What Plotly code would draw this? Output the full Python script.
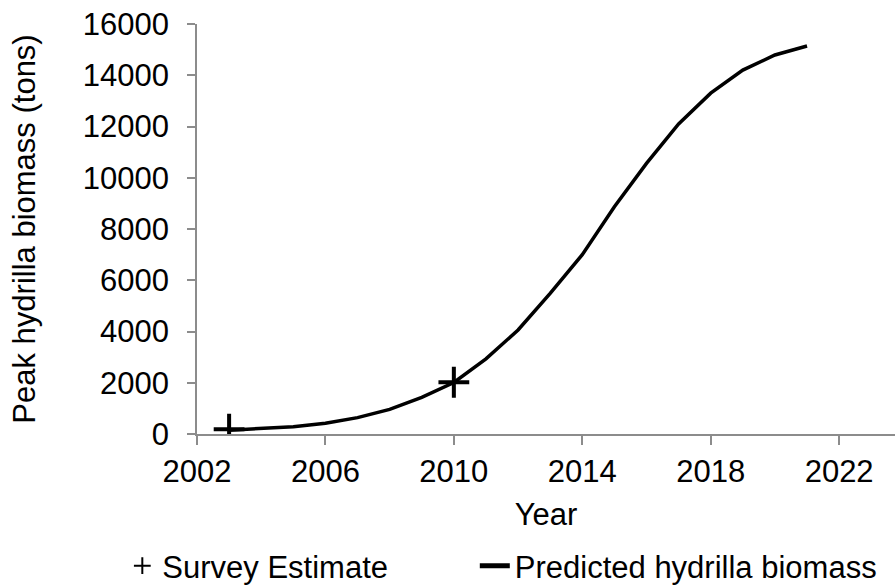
import plotly.graph_objects as go

# Predicted peak hydrilla biomass (tons) by year
years = [2003, 2004, 2005, 2006, 2007, 2008, 2009, 2010, 2011, 2012,
         2013, 2014, 2015, 2016, 2017, 2018, 2019, 2020, 2021]
predicted = [150, 200, 280, 420, 640, 960, 1430, 2010, 2930, 4060,
             5490, 7000, 8870, 10560, 12100, 13300, 14200, 14790, 15140]

# Survey estimates
survey_years = [2003, 2010]
survey_values = [190, 2020]

x_ticks = [2002, 2006, 2010, 2014, 2018, 2022]
y_ticks = [0, 2000, 4000, 6000, 8000, 10000, 12000, 14000, 16000]

FONT = "Liberation Sans, Arial, sans-serif"
AXIS_GREY = "#8c8c8c"
FS = 31

fig = go.Figure()
fig.add_trace(go.Scatter(
    x=survey_years, y=survey_values, mode="markers", name="Survey Estimate",
    marker=dict(symbol="cross-thin", size=22, line=dict(color="black", width=4)),
    legend="legend",
))
fig.add_trace(go.Scatter(
    x=years, y=predicted, mode="lines", name="Predicted hydrilla biomass",
    line=dict(color="black", width=3.5),
    legend="legend2",
))

legend_common = dict(
    orientation="h", yanchor="middle", y=-0.322,
    font=dict(size=FS), itemsizing="constant", bgcolor="rgba(0,0,0,0)",
)

fig.update_layout(
    width=895, height=586,
    margin=dict(l=197, r=0, t=24, b=152, autoexpand=False),
    paper_bgcolor="white", plot_bgcolor="white",
    font=dict(family=FONT, size=FS, color="black"),
    showlegend=True,
    legend=dict(x=-0.107, xanchor="left", **legend_common),
    legend2=dict(x=0.398, xanchor="left", **legend_common),
    xaxis=dict(
        range=[2002, 2023.74], tickvals=x_ticks, ticktext=[str(v) for v in x_ticks],
        showgrid=False, zeroline=False, showline=True, linecolor=AXIS_GREY, linewidth=1.5,
        ticks="outside", ticklen=9, tickcolor=AXIS_GREY, tickwidth=1.5,
        title=dict(text="Year", font=dict(size=FS)),
    ),
    yaxis=dict(
        range=[0, 16000], tickvals=y_ticks, ticktext=[str(v) for v in y_ticks],
        showgrid=False, zeroline=False, showline=True, linecolor=AXIS_GREY, linewidth=1.5,
        ticks="outside", ticklen=8, tickcolor=AXIS_GREY, tickwidth=1.5,
        ticklabelstandoff=12,
        title=dict(text="Peak hydrilla biomass (tons)", font=dict(size=FS), standoff=38),
    ),
)

fig.write_html("out.html")
